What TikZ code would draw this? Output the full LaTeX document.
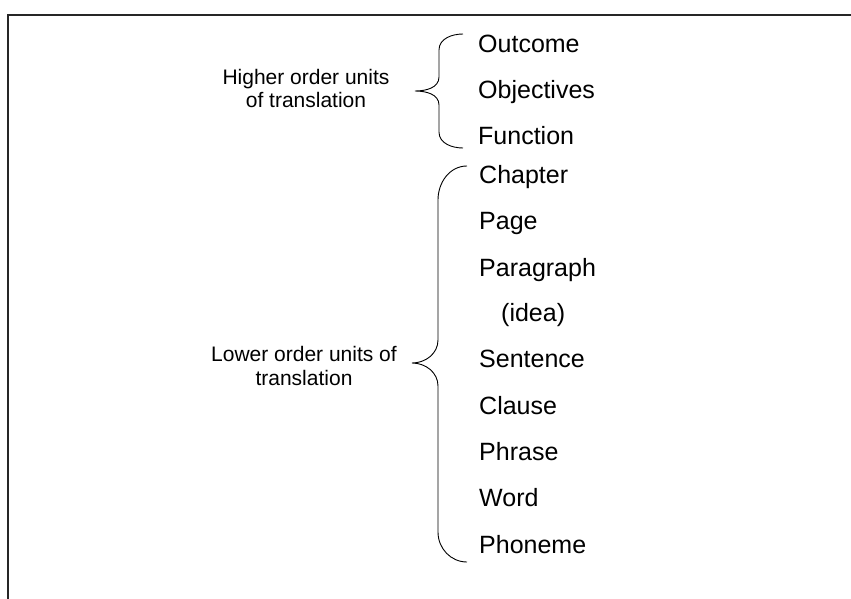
\documentclass[tikz,border=0pt]{standalone}
\usepackage{fontspec}
\setmainfont{Liberation Sans}
\begin{document}
\begin{tikzpicture}[x=1pt,y=-1pt,
  item/.style={anchor=base west,inner sep=0pt,font=\fontsize{25}{30}\selectfont},
  side/.style={anchor=base,inner sep=0pt,align=center,font=\fontsize{21}{23.5}\selectfont},
  bracepath/.style={line width=0.9pt,black},
  frameline/.style={line width=2pt,black!85}]
\useasboundingbox (0,0) rectangle (851,599);
% frame (open at right and bottom)
\coordinate (fbl) at (8,599);
\coordinate (ftl) at (8,15);
\coordinate (ftr) at (851,15);
\draw[frameline] (fbl) -- (ftl) -- (ftr);
% upper group
\node[side] (hi) at (306,108) {Higher order units\\of translation};
\node[item] (outcome) at (478,53) {Outcome};
\node[item] (objectives) at (478,99) {Objectives};
\node[item] (function) at (478,145) {Function};
\draw[bracepath] (463,34) to[out=180,in=90] (439,50) -- (439,77)
  to[out=-90,in=0] (415,91) to[out=0,in=90] (439,105) -- (439,132)
  to[out=-90,in=180] (463,148);
% lower group
\node[side] (lo) at (304,385) {Lower order units of\\translation};
\node[item] (chapter) at (479,183) {Chapter};
\node[item] (page) at (479,229) {Page};
\node[item] (paragraph) at (479,276) {Paragraph};
\node[item] (idea) at (501,321) {(idea)};
\node[item] (sentence) at (479,367) {Sentence};
\node[item] (clause) at (479,414) {Clause};
\node[item] (phrase) at (479,460) {Phrase};
\node[item] (word) at (479,506) {Word};
\node[item] (phoneme) at (479,553) {Phoneme};
\draw[bracepath] (467,166) to[out=180,in=90] (438,200) -- (438,340)
  to[out=-90,in=0] (412,363) to[out=0,in=90] (438,386) -- (438,532)
  to[out=-90,in=180] (467,562);
\end{tikzpicture}
\end{document}
